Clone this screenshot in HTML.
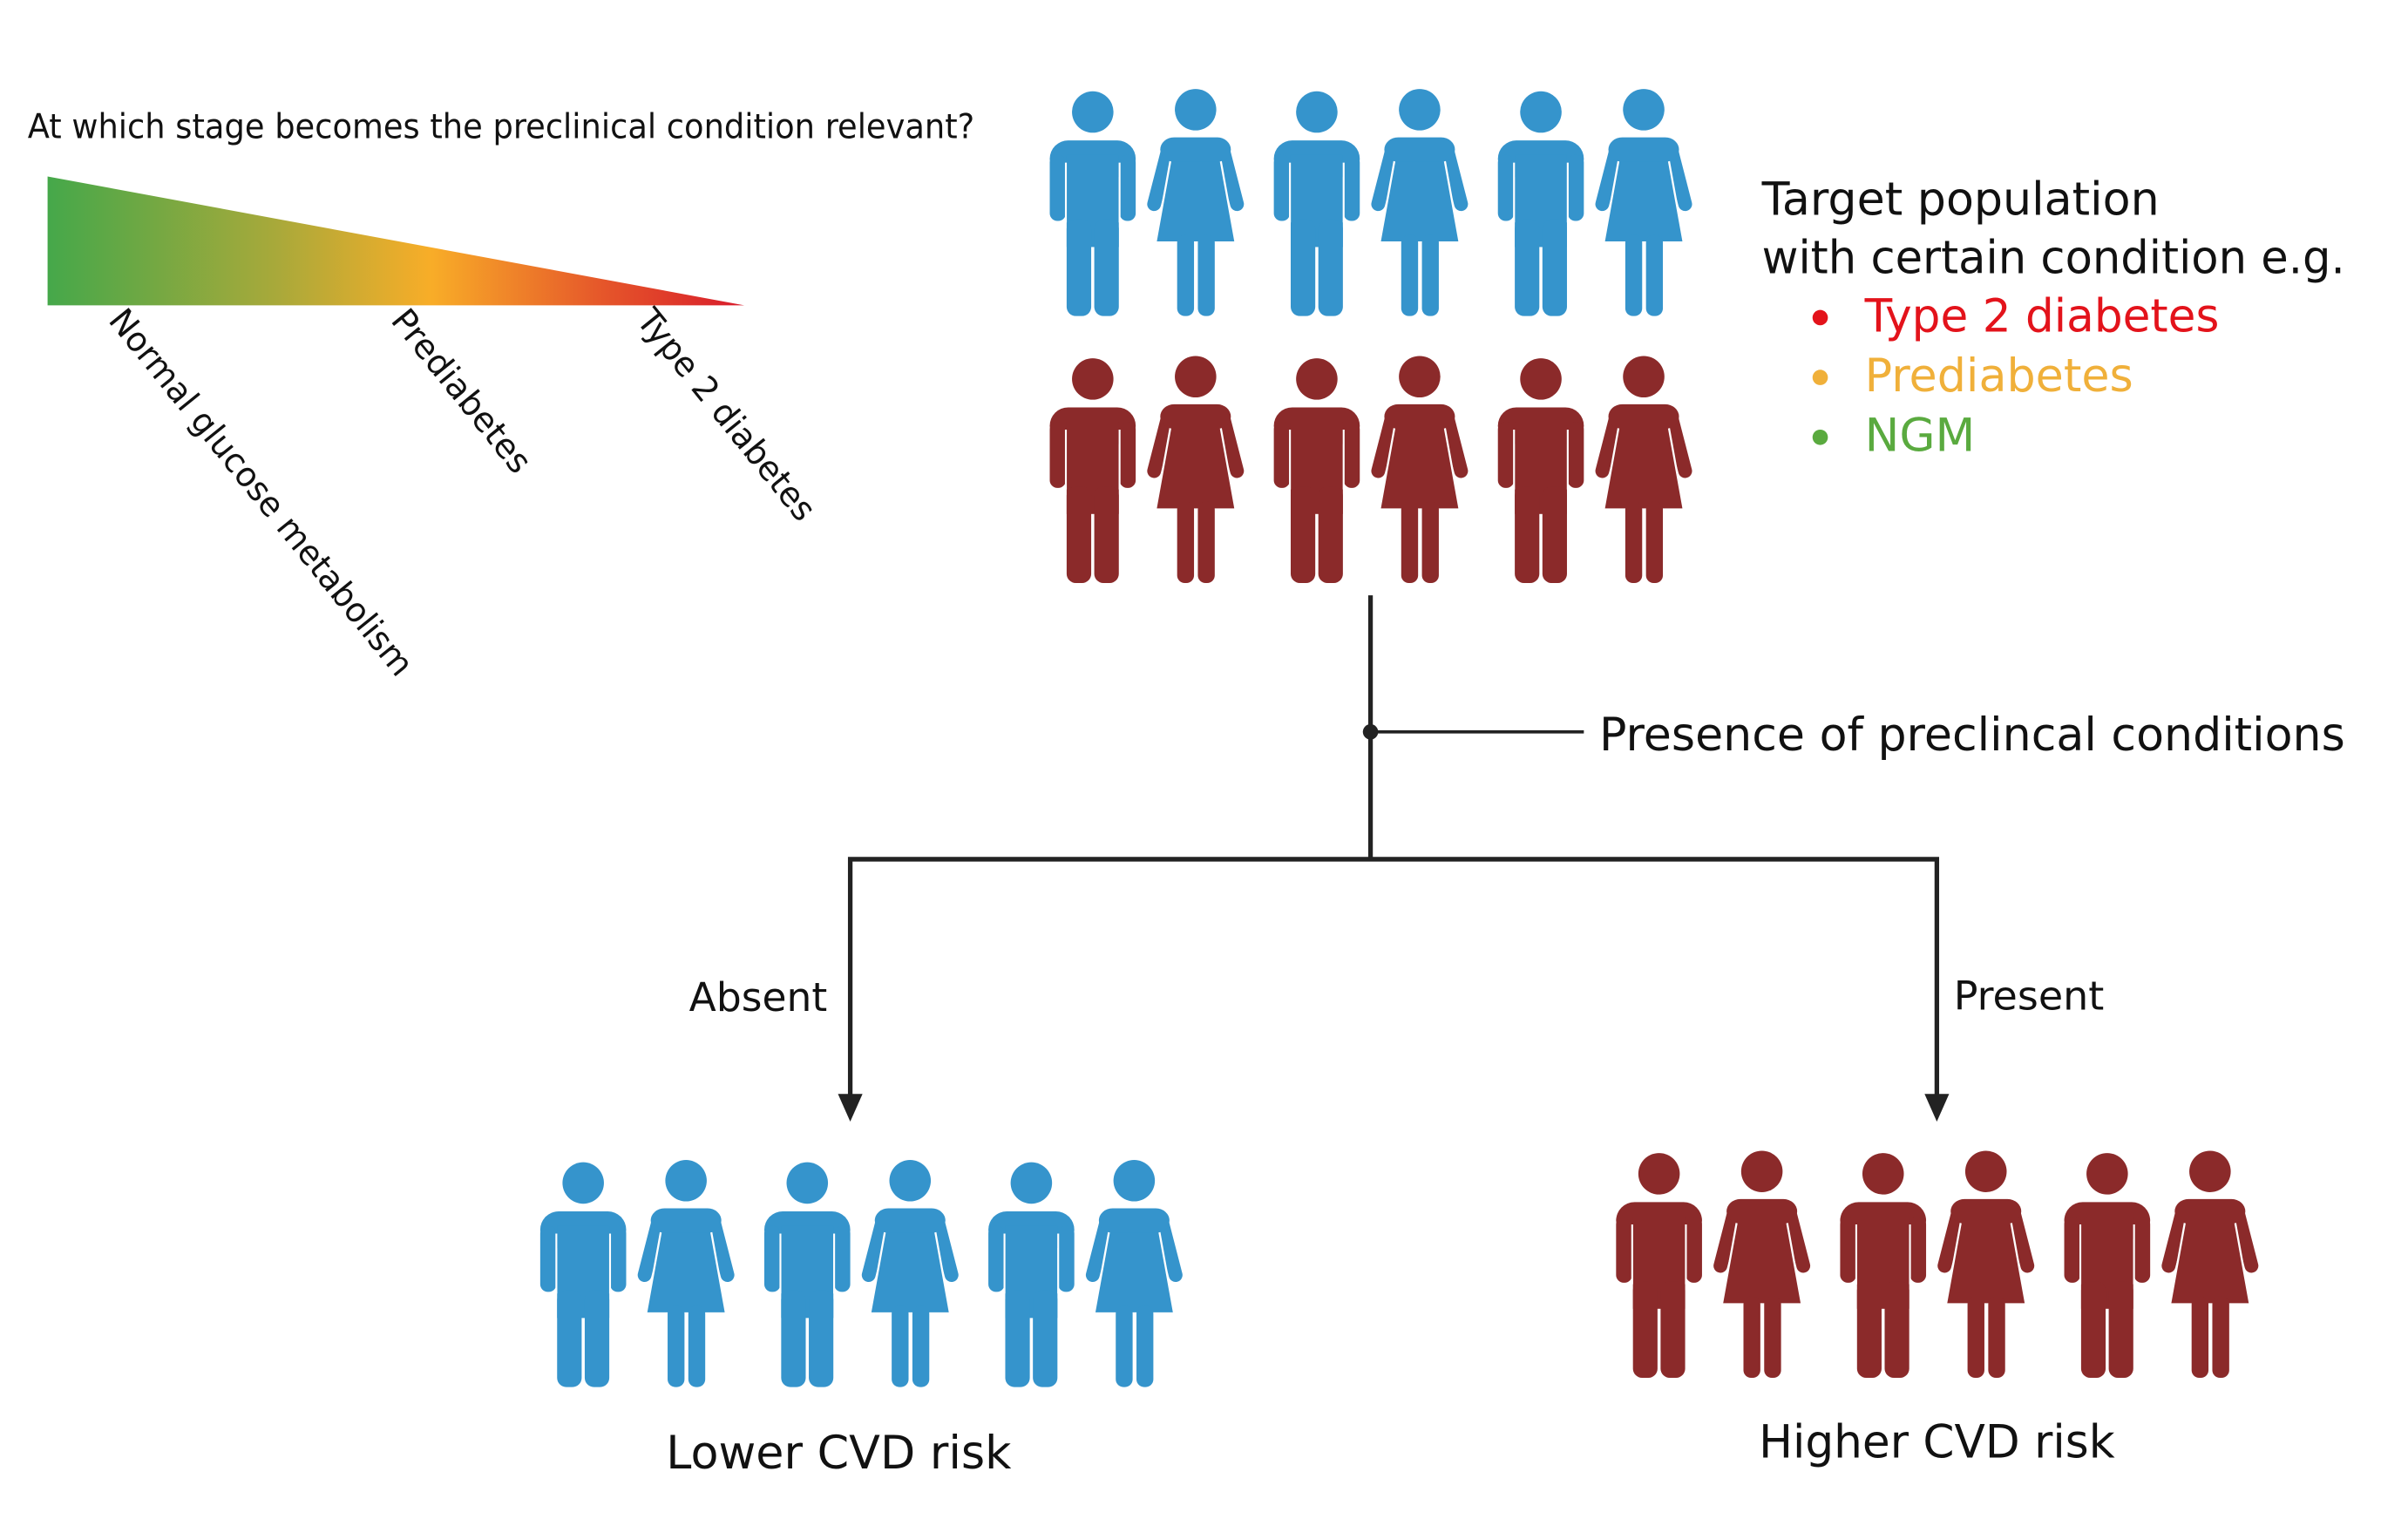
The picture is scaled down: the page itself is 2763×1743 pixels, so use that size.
<!DOCTYPE html>
<html><head><meta charset="utf-8"><style>
html,body{margin:0;padding:0;background:#fff;}
svg{display:block;}
text{font-family:"DejaVu Sans","Liberation Sans",sans-serif;fill:#111;}
</style></head><body>
<svg id="fig" xmlns="http://www.w3.org/2000/svg" width="2763" height="1743" viewBox="0 0 1569 990" preserveAspectRatio="none">
<defs>
<linearGradient id="grad" x1="31" y1="0" x2="485" y2="0" gradientUnits="userSpaceOnUse">
<stop offset="0" stop-color="#45a84a"/>
<stop offset="0.33" stop-color="#a9a93a"/>
<stop offset="0.55" stop-color="#f8ad28"/>
<stop offset="0.8" stop-color="#e5552a"/>
<stop offset="1" stop-color="#d81b2b"/>
</linearGradient>
</defs>
<text x="18" y="90" font-size="22" textLength="617" lengthAdjust="spacingAndGlyphs">At which stage becomes the preclinical condition relevant?</text>
<polygon points="31,115 31,199 485,199" fill="url(#grad)"/>
<text font-size="22" textLength="300" lengthAdjust="spacingAndGlyphs" transform="translate(70,209) rotate(51)">Normal glucose metabolism</text>
<text font-size="22" textLength="130" lengthAdjust="spacingAndGlyphs" transform="translate(254,209) rotate(51)">Prediabetes</text>
<text font-size="22" textLength="170" lengthAdjust="spacingAndGlyphs" transform="translate(414,209) rotate(51)">Type 2 diabetes</text>

<g id="people"></g>

<text x="1148" y="140" font-size="30" textLength="259" lengthAdjust="spacingAndGlyphs">Target population</text>
<text x="1148" y="178" font-size="30" textLength="380" lengthAdjust="spacingAndGlyphs">with certain condition e.g.</text>
<circle cx="1186" cy="207" r="5" fill="#e3131b"/>
<text x="1215" y="216" font-size="30" style="fill:#e3131b" textLength="231" lengthAdjust="spacingAndGlyphs">Type 2 diabetes</text>
<circle cx="1186" cy="246" r="5" fill="#f0b03a"/>
<text x="1215" y="255" font-size="30" style="fill:#f0b03a" textLength="175" lengthAdjust="spacingAndGlyphs">Prediabetes</text>
<circle cx="1186" cy="285" r="5" fill="#5aaa3f"/>
<text x="1215" y="294" font-size="30" style="fill:#5aaa3f" textLength="72" lengthAdjust="spacingAndGlyphs">NGM</text>

<g stroke="#222" stroke-width="3" fill="none">
<line x1="893" y1="388" x2="893" y2="561"/>
<line x1="893" y1="477" x2="1032" y2="477" stroke-width="2"/>
<polyline points="554,720 554,560 1262,560 1262,720"/>
</g>
<circle cx="893" cy="477" r="5" fill="#222"/>
<polygon points="546,713 562,713 554,731" fill="#222"/>
<polygon points="1254,713 1270,713 1262,731" fill="#222"/>
<text x="1042" y="489" font-size="30" textLength="486" lengthAdjust="spacingAndGlyphs">Presence of preclincal conditions</text>
<text x="449" y="659" font-size="26" textLength="90" lengthAdjust="spacingAndGlyphs">Absent</text>
<text x="1273" y="658" font-size="26" textLength="98" lengthAdjust="spacingAndGlyphs">Present</text>
<text x="434" y="957" font-size="30" textLength="225" lengthAdjust="spacingAndGlyphs">Lower CVD risk</text>
<text x="1146" y="950" font-size="30" textLength="232" lengthAdjust="spacingAndGlyphs">Higher CVD risk</text>
</svg>
<script>
const NS="http://www.w3.org/2000/svg";
const rowNames=["top-blue-row","top-red-row","lower-risk-row","higher-risk-row"];
const rowX=[712,712,380,1081];
const rowY=[73,247,771,765];
const rowColor=["#3594cc","#8b2a2a","#3594cc","#8b2a2a"];
const pairSpacing=146;
const femaleOffset=67;
const root=document.getElementById("people");
function mk(tag,attrs,parent){const e=document.createElementNS(NS,tag);for(const k in attrs)e.setAttribute(k,attrs[k]);parent.appendChild(e);return e;}
function male(g,c){
  mk("circle",{cx:0,cy:0,r:13.5,fill:c},g);
  mk("rect",{x:-28,y:18.5,width:56,height:24,rx:12,fill:c},g);
  mk("rect",{x:-28,y:28,width:10.5,height:43,rx:5,fill:c},g);
  mk("rect",{x:28-10.5,y:28,width:10.5,height:43,rx:5,fill:c},g);
  mk("rect",{x:-17,y:28,width:34,height:60,fill:c},g);
  mk("rect",{x:-17,y:70,width:16,height:63,rx:6,fill:c},g);
  mk("rect",{x:1,y:70,width:16,height:63,rx:6,fill:c},g);
  mk("line",{x1:-17.5,y1:33,x2:-17.5,y2:72,stroke:"#fff","stroke-width":1.2},g);
  mk("line",{x1:17.5,y1:33,x2:17.5,y2:72,stroke:"#fff","stroke-width":1.2},g);
}
function female(g,c){
  mk("circle",{cx:0,cy:-1.5,r:13.5,fill:c},g);
  mk("line",{x1:-18,y1:25,x2:-27,y2:60,stroke:c,"stroke-width":9,"stroke-linecap":"round"},g);
  mk("line",{x1:18,y1:25,x2:27,y2:60,stroke:c,"stroke-width":9,"stroke-linecap":"round"},g);
  mk("polygon",{points:"-15,24 15,24 26,85 -26,85",fill:c,stroke:"#fff","stroke-width":1.3},g);
  mk("rect",{x:-23,y:16.5,width:46,height:16,rx:9,fill:c},g);
  mk("rect",{x:-12,y:80,width:11,height:53,rx:5,fill:c},g);
  mk("rect",{x:1.5,y:80,width:11,height:53,rx:5,fill:c},g);
}
for(let r=0;r<rowNames.length;r++){
  const row=document.createElementNS(NS,"g");
  
  
  root.appendChild(row);
  for(let p=0;p<3;p++){
    const cx=rowX[r]+p*pairSpacing;
    const gm=document.createElementNS(NS,"g");
    
    
    gm.setAttribute("transform","translate("+cx+","+rowY[r]+")");
    row.appendChild(gm); male(gm,rowColor[r]);
    const gf=document.createElementNS(NS,"g");
    
    
    gf.setAttribute("transform","translate("+(cx+femaleOffset)+","+rowY[r]+")");
    row.appendChild(gf); female(gf,rowColor[r]);
  }
}
</script>
</body></html>
